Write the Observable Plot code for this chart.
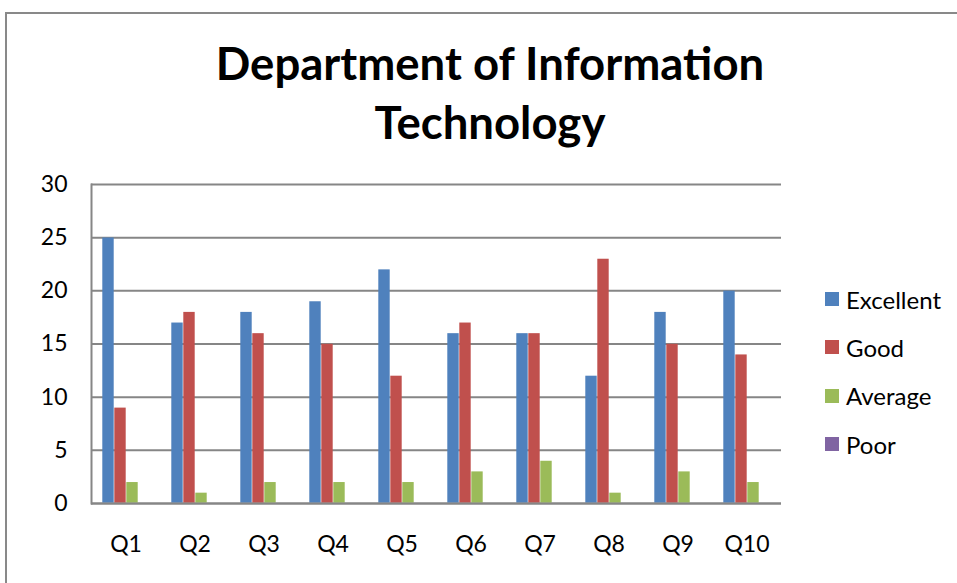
<!DOCTYPE html>
<html>
<head>
<meta charset="utf-8">
<script src="https://cdn.jsdelivr.net/npm/d3@7"></script>
<script src="https://cdn.jsdelivr.net/npm/@observablehq/plot@0.6"></script>
<style>
  html, body { margin: 0; padding: 0; background: #fff; }
  body { width: 957px; height: 583px; overflow: hidden; position: relative; font-family: Lato, "Open Sans", sans-serif; }
  #frame { position: absolute; left: 5px; top: 12px; width: 960px; height: 600px; border-top: 2px solid #898989; border-left: 2px solid #898989; box-sizing: border-box; }
  #title { position: absolute; left: 0; width: 980px; top: 33px; text-align: center; font-weight: 700; font-size: 45.5px; line-height: 59px; color: #000; }
  #chart { position: absolute; left: 0; top: 0; }
  #legend { position: absolute; left: 825px; top: 275px; }
  .item { display: flex; align-items: center; height: 48.3px; font-size: 24px; color: #000; }
  .sw { width: 14px; height: 14px; margin-right: 7px; }
</style>
</head>
<body>
<div id="frame"></div>
<div id="chart"></div>
<div id="title">Department of Information<br>Technology</div>
<div id="legend"></div>
<script>
const categories = ["Q1", "Q2", "Q3", "Q4", "Q5", "Q6", "Q7", "Q8", "Q9", "Q10"];
const series = ["Excellent", "Good", "Average", "Poor"];
const excellent = [25, 17, 18, 19, 22, 16, 16, 12, 18, 20];
const good = [9, 18, 16, 15, 12, 17, 16, 23, 15, 14];
const average = [2, 1, 2, 2, 2, 3, 4, 1, 3, 2];
const poor = [0, 0, 0, 0, 0, 0, 0, 0, 0, 0];
const colors = ["#4F81BD", "#C0504D", "#9BBB59", "#8064A2"];
const yTicks = [0, 5, 10, 15, 20, 25, 30];

const values = [excellent, good, average, poor];
const data = categories.flatMap((q, i) => series.map((s, j) => ({ q, s, v: values[j][i] })));

const chart = Plot.plot({
  width: 957,
  height: 583,
  marginLeft: 90,
  marginRight: 175,
  marginTop: 184,
  marginBottom: 80,
  style: { fontFamily: "Lato, 'Open Sans', sans-serif", fontSize: "23px", color: "#000", background: "transparent", overflow: "visible" },
  fx: { domain: categories, padding: 0, label: null, axis: "bottom", tickSize: 0, tickPadding: 32 },
  x: { domain: series, paddingInner: 0, paddingOuter: 0.77, axis: null },
  y: { domain: [0, 30], ticks: yTicks, label: null, tickSize: 0, tickPadding: 24 },
  color: { domain: series, range: colors },
  marks: [
    Plot.ruleY(yTicks, { stroke: "#868686", strokeWidth: 2, strokeOpacity: 1 }),
    Plot.frame({ anchor: "left", facetAnchor: "left", stroke: "#868686", strokeWidth: 2, strokeOpacity: 1 }),
    Plot.barY(data, { fx: "q", x: "s", y: "v", fill: "s", inset: 0.3 }),
    Plot.ruleY([0], { stroke: "#868686", strokeWidth: 2, strokeOpacity: 1 })
  ]
});
document.getElementById("chart").appendChild(chart);

const legend = document.getElementById("legend");
series.forEach((s, j) => {
  const row = document.createElement("div");
  row.className = "item";
  const sw = document.createElement("div");
  sw.className = "sw";
  sw.style.background = colors[j];
  const label = document.createElement("span");
  label.textContent = s;
  row.appendChild(sw);
  row.appendChild(label);
  legend.appendChild(row);
});
</script>
</body>
</html>
